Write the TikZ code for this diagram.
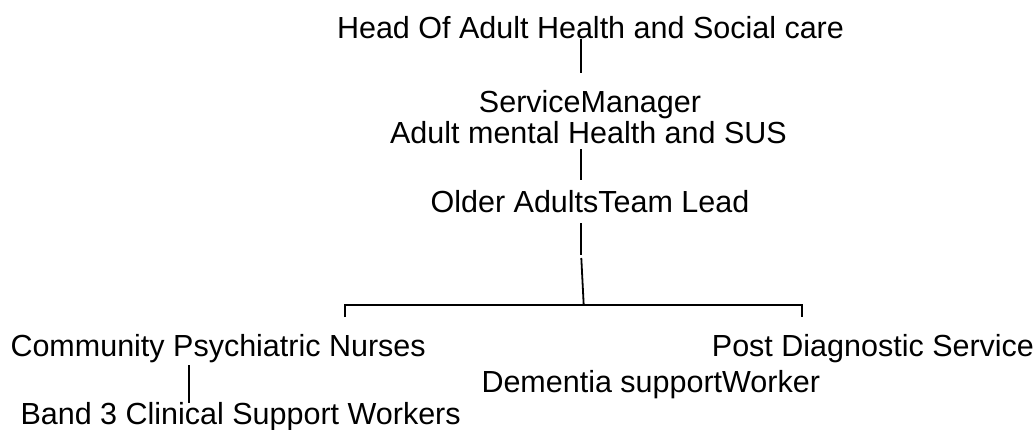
\documentclass[tikz,border=0pt]{standalone}
\usepackage{fontspec}
\setmainfont{Liberation Sans}
\begin{document}
\begin{tikzpicture}[x=1pt,y=-1pt,
  lbl/.style={inner sep=0pt,outer sep=0pt,font=\fontsize{30.5}{31}\selectfont},
  conn/.style={line width=1.8pt,line cap=butt}]
\useasboundingbox (0,0) rectangle (1036,429);
\node[lbl,anchor=base] (head) at (590.5,38) {Head Of Adult Health and Social care};
\node[lbl,anchor=base] (sm1) at (590,112) {ServiceManager};
\node[lbl,anchor=base] (sm2) at (588.5,143) {Adult mental Health and SUS};
\node[lbl,anchor=base] (lead) at (590,212) {Older AdultsTeam Lead};
\node[lbl,anchor=base west] (cpn) at (10.5,356) {Community Psychiatric Nurses};
\node[lbl,anchor=base west] (band) at (20.5,424) {Band 3 Clinical Support Workers};
\node[lbl,anchor=base east] (pds) at (1034,356) {Post Diagnostic Service};
\node[lbl,anchor=base west] (dsw) at (481.5,392) {Dementia supportWorker};
% connectors
\coordinate (l1a) at (581,39);
\coordinate (l1b) at (581,73);
\draw[conn] (l1a) -- (l1b);
\coordinate (l2a) at (581,149);
\coordinate (l2b) at (581,180);
\draw[conn] (l2a) -- (l2b);
\coordinate (l3a) at (581,223);
\coordinate (l3b) at (581,255);
\coordinate (l3c) at (581.3,258);
\coordinate (bar) at (583.7,305);
\draw[conn] (l3a) -- (l3b);
\draw[conn] (l3c) -- (bar);
\coordinate (barL) at (345,305);
\coordinate (barR) at (802,305);
\draw[conn] (barL |- 0,317) -- (barL) -- (barR) -- (barR |- 0,317);
\coordinate (b1) at (189,365);
\coordinate (b2) at (189,403);
\draw[conn] (b1) -- (b2);
\end{tikzpicture}
\end{document}
